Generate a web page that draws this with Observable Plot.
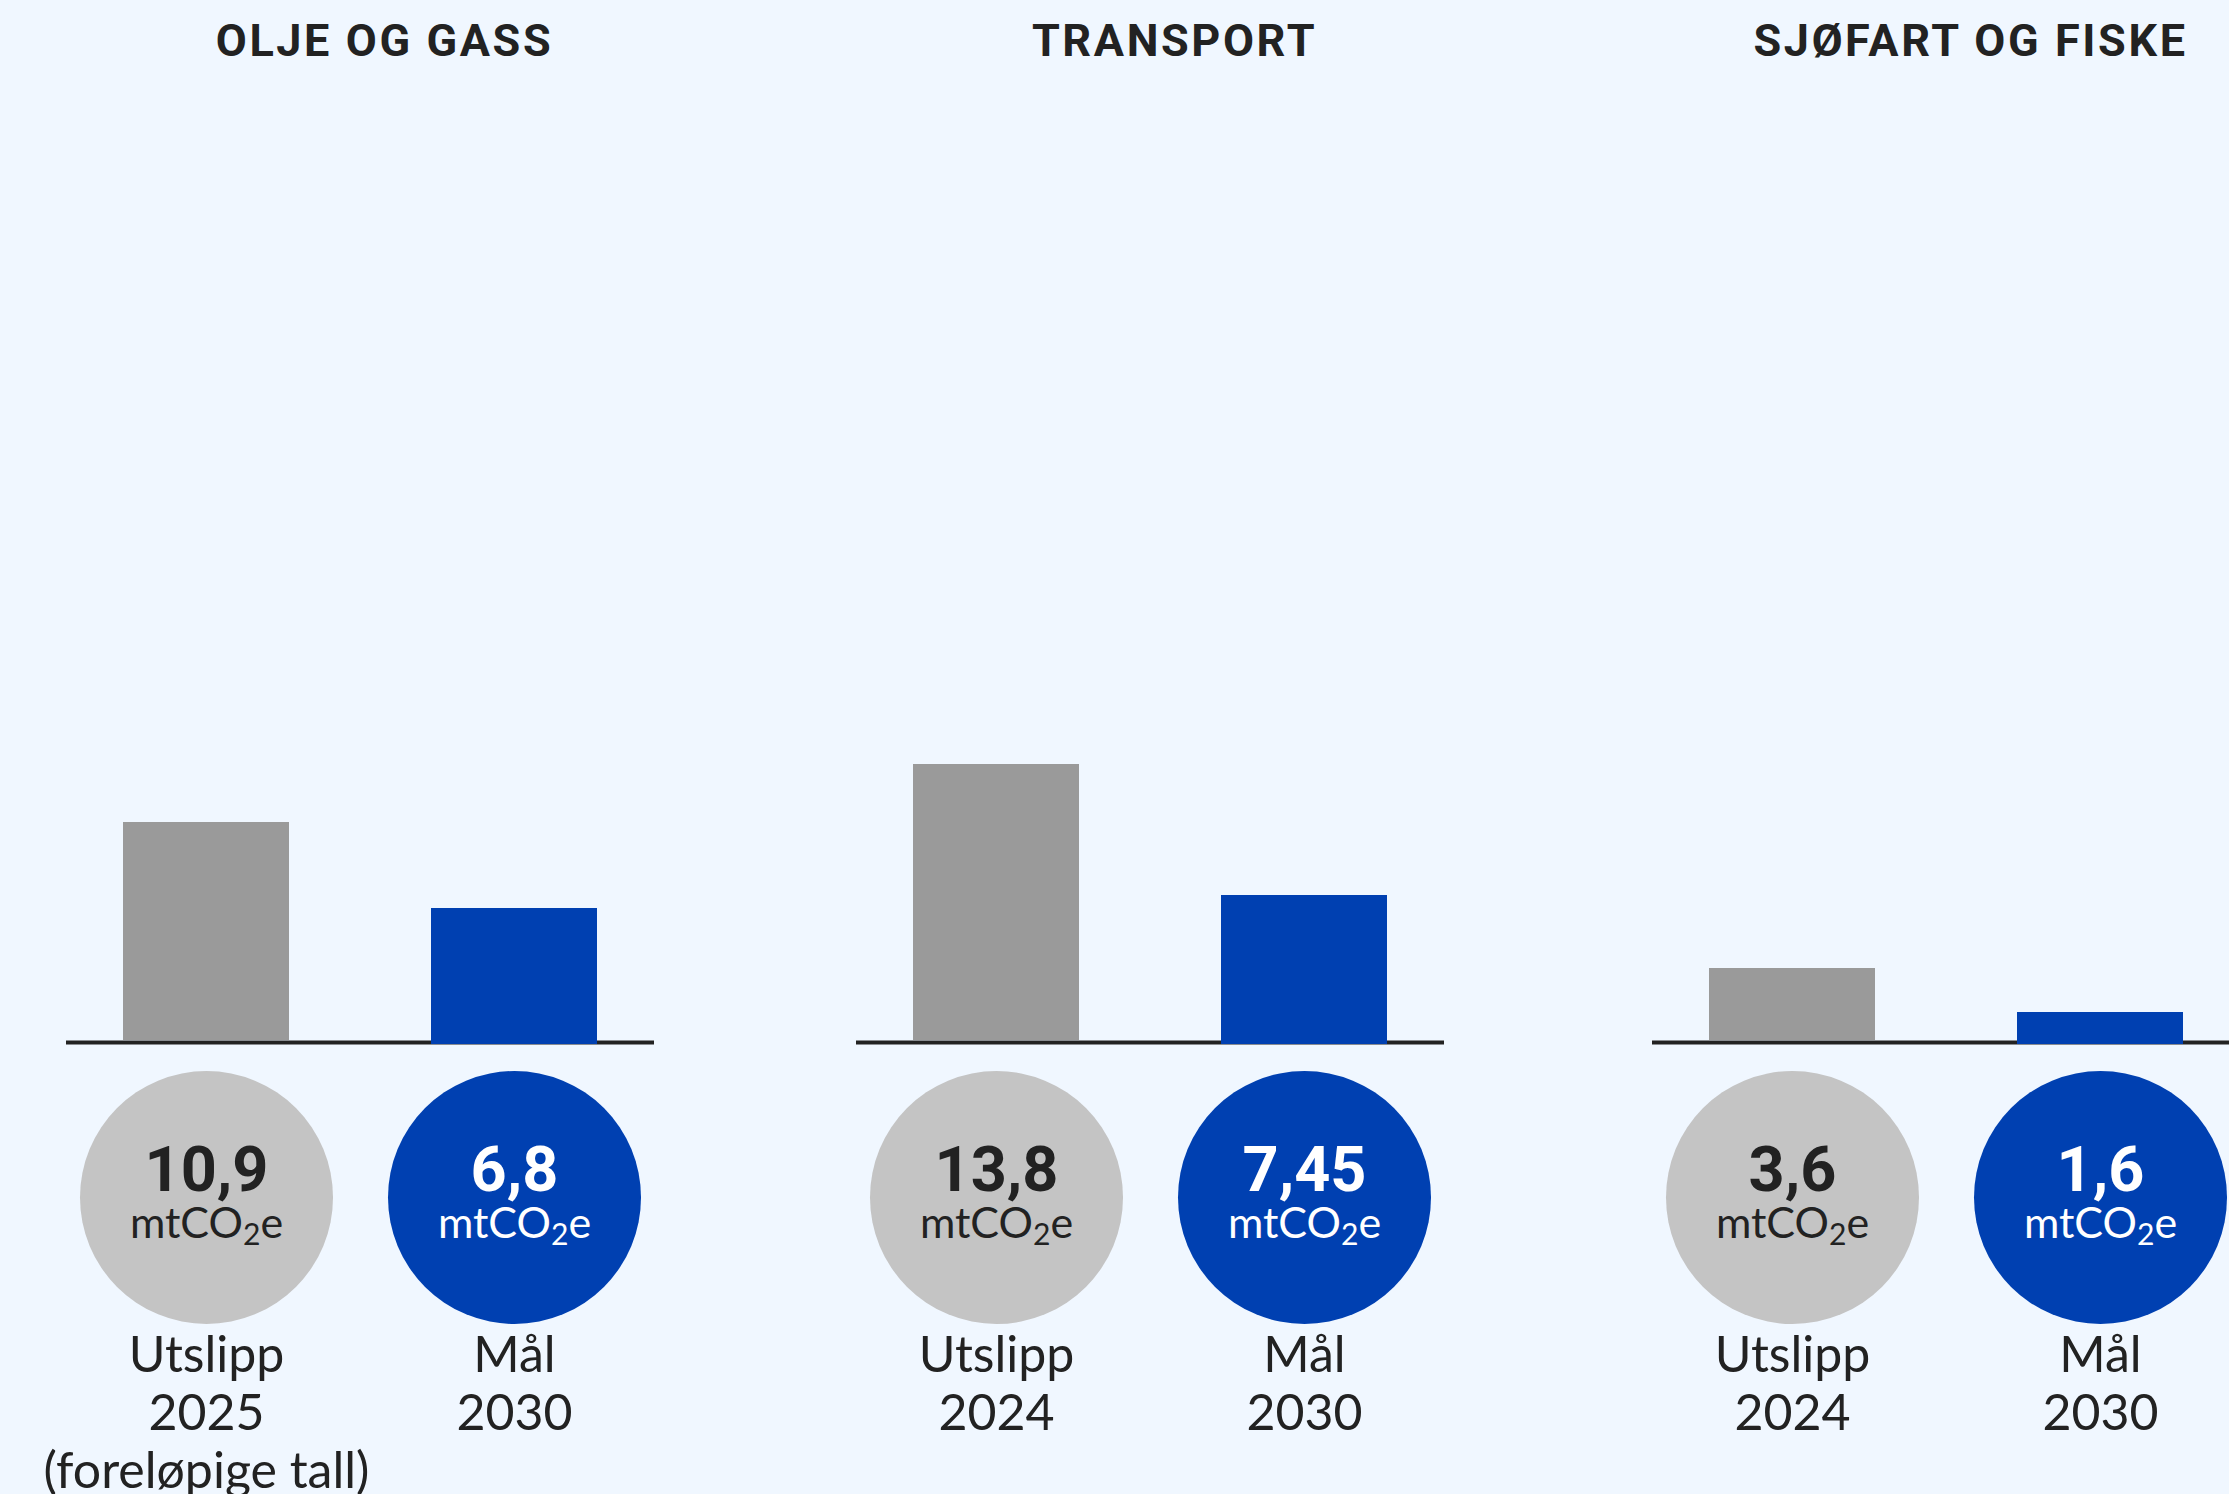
<!DOCTYPE html>
<html>
<head>
<meta charset="utf-8">
<script src="https://cdn.jsdelivr.net/npm/d3@7"></script>
<script src="https://cdn.jsdelivr.net/npm/@observablehq/plot@0.6"></script>
<style>
  html, body { margin: 0; padding: 0; background: #f0f7ff; overflow: hidden; }
  #wrap { position: relative; width: 2229px; height: 1494px; overflow: hidden; }
  .panel { position: absolute; top: 0; width: 668px; height: 1494px; }
  .panel svg { overflow: visible; max-width: none !important; width: 668px; height: 1494px; }
</style>
</head>
<body>
<div id="wrap"></div>
<script>
// ---- data ----
const sectors = ["OLJE OG GASS", "TRANSPORT", "SJØFART OG FISKE"];
const categories = ["Utslipp", "Mål"];
const emissions = [10.9, 13.8, 3.6];          // mtCO2e, latest emissions
const targets = [6.8, 7.45, 1.6];             // mtCO2e, 2030 targets
const emissionYears = ["2025", "2024", "2024"];
const emissionNotes = ["(foreløpige tall)", "", ""];
const targetYear = "2030";
const unit = "mtCO₂e";

// ---- style ----
const GREY_BAR = "#9a9a9a";
const GREY_DOT = "#c4c4c4";
const BLUE = "#0040b1";
const INK = "#222222";
const panelLefts = [26, 816, 1612];

const fmt = v => String(v).replace(".", ",");

const wrap = document.getElementById("wrap");

sectors.forEach((sector, i) => {
  const em = [{cat: categories[0], value: emissions[i],
    label: [categories[0], emissionYears[i], emissionNotes[i]].filter(Boolean).join("\n")}];
  const tg = [{cat: categories[1], value: targets[i],
    label: [categories[1], targetYear].join("\n")}];

  const svg = Plot.plot({
    width: 668,
    height: 1494,
    marginLeft: 40,
    marginRight: 40,
    marginTop: 80,
    marginBottom: 454,
    style: {background: "transparent", overflow: "visible"},
    x: {domain: categories, paddingInner: 0.462, paddingOuter: 0.184, axis: null},
    y: {domain: [0, 48], axis: null},
    marks: [
      Plot.barY(em, {x: "cat", y: "value", fill: GREY_BAR}),
      Plot.ruleY([0], {stroke: INK, strokeWidth: 4, dy: 2}),
      Plot.barY(tg, {x: "cat", y: "value", fill: BLUE, dy: 4}),
      Plot.dot(em, {x: "cat", r: 126.5, fill: GREY_DOT, frameAnchor: "bottom", dy: 157}),
      Plot.dot(tg, {x: "cat", r: 126.5, fill: BLUE, frameAnchor: "bottom", dy: 157}),
      Plot.text(em, {x: "cat", text: d => fmt(d.value), frameAnchor: "bottom", lineAnchor: "bottom",
        dy: 150, fontSize: 63, fontWeight: 700, fontFamily: "Roboto", fill: INK}),
      Plot.text(tg, {x: "cat", text: d => fmt(d.value), frameAnchor: "bottom", lineAnchor: "bottom",
        dy: 150, fontSize: 63, fontWeight: 700, fontFamily: "Roboto", fill: "white"}),
      Plot.text(em, {x: "cat", text: () => unit, frameAnchor: "bottom", lineAnchor: "bottom",
        dy: 197, fontSize: 43, fontFamily: "Lato", fill: INK}),
      Plot.text(tg, {x: "cat", text: () => unit, frameAnchor: "bottom", lineAnchor: "bottom",
        dy: 197, fontSize: 43, fontFamily: "Lato", fill: "white"}),
      Plot.text([...em, ...tg], {x: "cat", text: "label", frameAnchor: "bottom", lineAnchor: "top",
        lineHeight: 1.16, dy: 290, fontSize: 50, fontFamily: "Lato", fill: INK}),
      Plot.text([sector], {text: d => d, frameAnchor: "top", lineAnchor: "bottom", dx: 24, dy: -25,
        fontSize: 45, fontWeight: 700, fontFamily: "Roboto", fill: INK})
    ]
  });

  // title letter spacing
  d3.select(svg).selectAll("text")
    .filter(function() { return this.textContent === sector; })
    .attr("letter-spacing", "2.6");

  // real subscript for CO2
  d3.select(svg).selectAll("text")
    .filter(function() { return this.textContent === unit; })
    .each(function() {
      const t = d3.select(this);
      const [pre, post] = unit.split("₂");
      t.text(null);
      t.append("tspan").text(pre);
      t.append("tspan").attr("font-size", "0.7em").attr("dy", "0.25em").text("2");
      t.append("tspan").attr("dy", "-0.175em").text(post);
    });

  const div = document.createElement("div");
  div.className = "panel";
  div.style.left = panelLefts[i] + "px";
  div.appendChild(svg);
  wrap.appendChild(div);
});
</script>
</body>
</html>
